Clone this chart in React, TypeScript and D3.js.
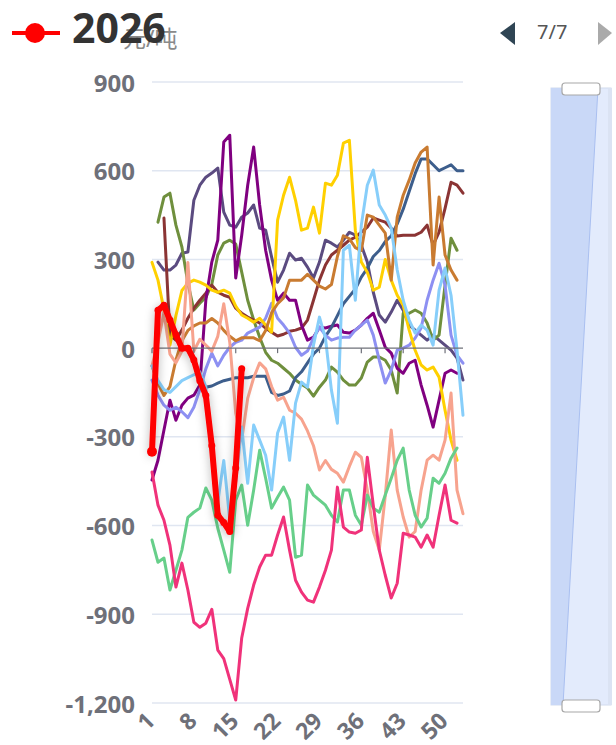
import React from 'react';
import * as d3 from 'd3';

const W = 616;
const H = 745;

const weeks: number[] = Array.from({ length: 53 }, (_, i) => i + 1);
const yTickValues = [-1200, -900, -600, -300, 0, 300, 600, 900];
const xLabelWeeks = [1, 8, 15, 22, 29, 36, 43, 50];

type V = number | null;

const sSlate: V[] = [null, 291, 264, 264, 281, 321, 325, 500, 551, 578, 592, 609, 460, 416, 409, 443, 457, 484, 406, 399, 308, 223, 264, 321, 298, 304, 274, 237, 291, 365, 355, 342, 365, 392, 382, 348, 291, 189, 112, 88, 122, 162, 128, 78, 61, 44, 27, 44, 27, 10, -7, -34, -108];
const sOlive: V[] = [null, 426, 511, 524, 416, 342, 220, 129, 152, 172, 216, 315, 355, 365, 352, 257, 162, 95, 37, -14, -41, -51, -68, -85, -108, -122, -135, -162, -132, -108, -64, -81, -108, -125, -125, -101, -47, -30, -30, -41, -74, -152, 118, 118, 129, 118, 85, 27, 44, 213, 372, 331];
const sMaroon: V[] = [null, null, 440, 44, 27, 61, 101, 135, 162, 186, 213, 189, 179, 172, 135, 118, 105, 95, 85, 68, 54, 41, 47, 57, 61, 68, 95, 162, 230, 281, 315, 331, 348, 365, 375, 392, 409, 440, 433, 426, 406, 379, 382, 382, 382, 392, 416, 348, 392, 473, 561, 551, 524];
const sPurple: V[] = [-446, -379, -277, -176, -244, -193, -169, -159, -125, 162, 291, 365, 697, 720, 237, 382, 551, 680, 484, 331, 230, 162, 186, 162, 162, 78, 27, 37, 71, 68, 74, 78, 54, 51, 61, 78, 101, 118, 61, 3, -17, -68, -85, -51, -41, -125, -193, -267, -176, -85, -74, -85];
const sSteel: V[] = [null, null, null, null, null, null, null, null, -125, -132, -128, -118, -110, -105, -100, -100, -100, -95, -95, -95, -150, -160, -155, -145, -100, -80, -50, -20, 0, 40, 70, 110, 150, 175, 200, 240, 270, 310, 330, 360, 380, 420, 470, 530, 590, 640, 640, 620, 600, 610, 620, 600, 600];
const sPeri: V[] = [-108, -159, -193, -210, -200, -215, -235, -200, -140, -70, -17, -60, -24, 3, 20, 27, 51, 61, 71, 101, 152, 101, 78, 51, 3, -24, -10, 34, 71, 44, 27, 34, 37, 37, 61, 78, 95, 44, -41, -118, -74, -7, 0, 10, 34, 68, 162, 230, 287, 213, 44, -24, -51];
const sGold: V[] = [290, 230, 130, 10, 110, 195, 220, 230, 223, 213, 196, 189, 196, 186, 142, 112, 101, 88, 101, 78, 54, 433, 517, 578, 500, 399, 406, 477, 389, 558, 551, 585, 693, 703, 399, 291, 257, 196, 206, 300, 230, 179, 145, 61, -7, -57, -74, -64, -98, -210, -311, -379];
const sPeru: V[] = [-60, -120, -160, -130, -40, 25, 60, 75, 85, 85, 100, 85, 60, 40, 25, 35, 35, 35, 25, 60, 120, 150, 170, 230, 230, 230, 250, 230, 210, 200, 215, 310, 380, 370, 340, 330, 450, 443, 416, 389, 230, 443, 517, 568, 626, 663, 680, 281, 511, 315, 264, 230];
const sSalmon: V[] = [-60, 20, 120, -20, -50, -10, 290, -10, 30, 10, -10, 40, 150, 20, -220, -310, -170, -100, -50, -70, -130, -176, -166, -210, -220, -240, -280, -330, -412, -380, -410, -423, -453, -400, -352, -369, -480, -620, -683, -500, -277, -480, -571, -639, -620, -480, -379, -362, -379, -311, -152, -480, -560];
const sLightBlue: V[] = [-60, -110, -140, -150, -130, -110, -100, -90, -80, -130, -350, -520, -380, -580, -450, -267, -457, -260, -311, -362, -480, -287, -233, -379, -186, -115, -132, 10, 105, 34, -142, -254, 331, 348, 162, 416, 551, 602, 484, 450, 406, 264, 162, 95, 51, 78, 61, 10, 196, 271, 179, -7, -227];
const sGreen: V[] = [-649, -724, -710, -818, -751, -683, -572, -555, -541, -473, -514, -609, -683, -758, -514, -463, -599, -480, -345, -440, -541, -504, -470, -514, -707, -700, -463, -497, -514, -531, -565, -588, -480, -480, -565, -599, -497, -541, -555, -497, -440, -379, -338, -480, -565, -605, -575, -440, -457, -423, -372, -338];
const sPink: V[] = [-419, -531, -582, -666, -808, -727, -818, -927, -944, -930, -883, -1021, -1050, -1120, -1190, -980, -880, -801, -740, -700, -700, -632, -571, -683, -785, -825, -852, -859, -808, -751, -683, -470, -605, -622, -626, -615, -369, -531, -683, -768, -845, -795, -626, -632, -639, -673, -632, -673, -565, -463, -582, -592];
const s2026: V[] = [-350, 128, 145, 95, 45, 0, 0, -40, -110, -160, -330, -565, -590, -620, -405, -70];

const seriesNames = ['2014', '2015', '2016', '2017', '2018', '2019', '2020', '2021', '2022', '2023', '2024', '2025', '2026'];
const seriesColors = ['#5b4b80', '#6f8f3d', '#8b3434', '#800080', '#3d5e8c', '#8d90f2', '#ffd000', '#c97b31', '#f7a38e', '#87cefa', '#67cf8a', '#f0327a', '#ff0000'];
const seriesValues = [sSlate, sOlive, sMaroon, sPurple, sSteel, sPeri, sGold, sPeru, sSalmon, sLightBlue, sGreen, sPink, s2026];

const fmt = d3.formatLocale({ decimal: '.', thousands: ',', grouping: [3], currency: ['', ''], minus: '-' }).format(',');

const FONT = "'Noto Sans', 'Noto Sans CJK SC', sans-serif";

export default function App() {
  const x = d3.scalePoint<number>().domain(weeks).range([152, 463]);
  const y = d3.scaleLinear().domain([-1200, 900]).range([703, 82]);
  const line = d3
    .line<V>()
    .defined((d) => d != null)
    .x((_d, i) => x(weeks[i]) as number)
    .y((d) => y(d as number));

  const y0 = y(0);
  const last = seriesValues.length - 1;

  return (
    <svg width={W} height={H} style={{ position: 'absolute', left: 0, top: 0, background: '#fff' }} fontFamily={FONT}>
      <defs>
        <filter id="redShadow" x="-50%" y="-50%" width="200%" height="200%">
          <feDropShadow dx="0" dy="2" stdDeviation="5" floodColor="#000" floodOpacity="0.3" />
        </filter>
      </defs>

      {/* grid */}
      {yTickValues.filter((v) => v !== 0).map((v) => (
        <line key={v} x1={152} x2={463} y1={y(v)} y2={y(v)} stroke="#e0e6f1" strokeWidth={1.5} />
      ))}

      {/* y labels */}
      {yTickValues.map((v) => (
        <text key={v} x={135} y={y(v)} textAnchor="end" dominantBaseline="central" fontSize={24} fontWeight={700} fill="#6e7079">
          {fmt(v)}
        </text>
      ))}

      {/* series */}
      {seriesValues.map((vals, si) =>
        si === last ? null : (
          <path key={si} d={line(vals) || ''} fill="none" stroke={seriesColors[si]} strokeWidth={3} strokeLinejoin="round" strokeLinecap="round" />
        )
      )}

      {/* axis line at zero */}
      <line x1={152} x2={463} y1={y0} y2={y0} stroke="#6e7079" strokeWidth={1.2} />
      {xLabelWeeks.map((w) => (
        <line key={w} x1={x(w)} x2={x(w)} y1={y0} y2={y0 + 5} stroke="#6e7079" strokeWidth={1.2} />
      ))}

      {/* 2026 series */}
      <g filter="url(#redShadow)">
        <path d={line(seriesValues[last]) || ''} fill="none" stroke={seriesColors[last]} strokeWidth={6} strokeLinejoin="round" strokeLinecap="round" />
      </g>
      {seriesValues[last].map((v, i) =>
        v == null ? null : <circle key={i} cx={x(weeks[i])} cy={y(v)} r={i === 0 ? 5 : 3.5} fill={seriesColors[last]} />
      )}

      {/* x labels */}
      {xLabelWeeks.map((w) => (
        <text
          key={w}
          transform={`translate(${(x(w) as number) - 2},${716}) rotate(-45)`}
          textAnchor="end"
          dominantBaseline="central"
          fontSize={23}
          fontWeight={700}
          fill="#6e7079"
        >
          {w}
        </text>
      ))}

      {/* y axis name */}
      <text x={123} y={47} fontSize={23} fill="#8a8a8a">元/吨</text>

      {/* legend */}
      <line x1={12} x2={60} y1={33} y2={33} stroke={seriesColors[last]} strokeWidth={4} />
      <circle cx={35} cy={33} r={10} fill={seriesColors[last]} />
      <text x={72} y={43} fontSize={41} fontWeight={700} fill="#333">{seriesNames[last]}</text>

      {/* legend pager */}
      <polygon points="500,33 515,22 515,45" fill="#2f4554" />
      <text x={537} y={39} fontSize={20} fill="#555">7/7</text>
      <polygon points="598,22 612,33 598,45" fill="#aaaaaa" />

      {/* data zoom slider */}
      <rect x={551} y={88} width={60} height={617} fill="#e3ebfc" stroke="#d2dbee" />
      <polygon points="551,88 598,88 563,705 551,705" fill="#c9d8f7" />
      <line x1={598} y1={88} x2={563} y2={705} stroke="#a9bff0" strokeWidth={1} />
      <rect x={608} y={88} width={4} height={617} fill="#dbe3f3" />
      <rect x={562} y={83} width={38} height={12} rx={3} fill="#fff" stroke="#a8a8a8" strokeWidth={1.2} />
      <rect x={562} y={700} width={38} height={12} rx={3} fill="#fff" stroke="#a8a8a8" strokeWidth={1.2} />
    </svg>
  );
}
